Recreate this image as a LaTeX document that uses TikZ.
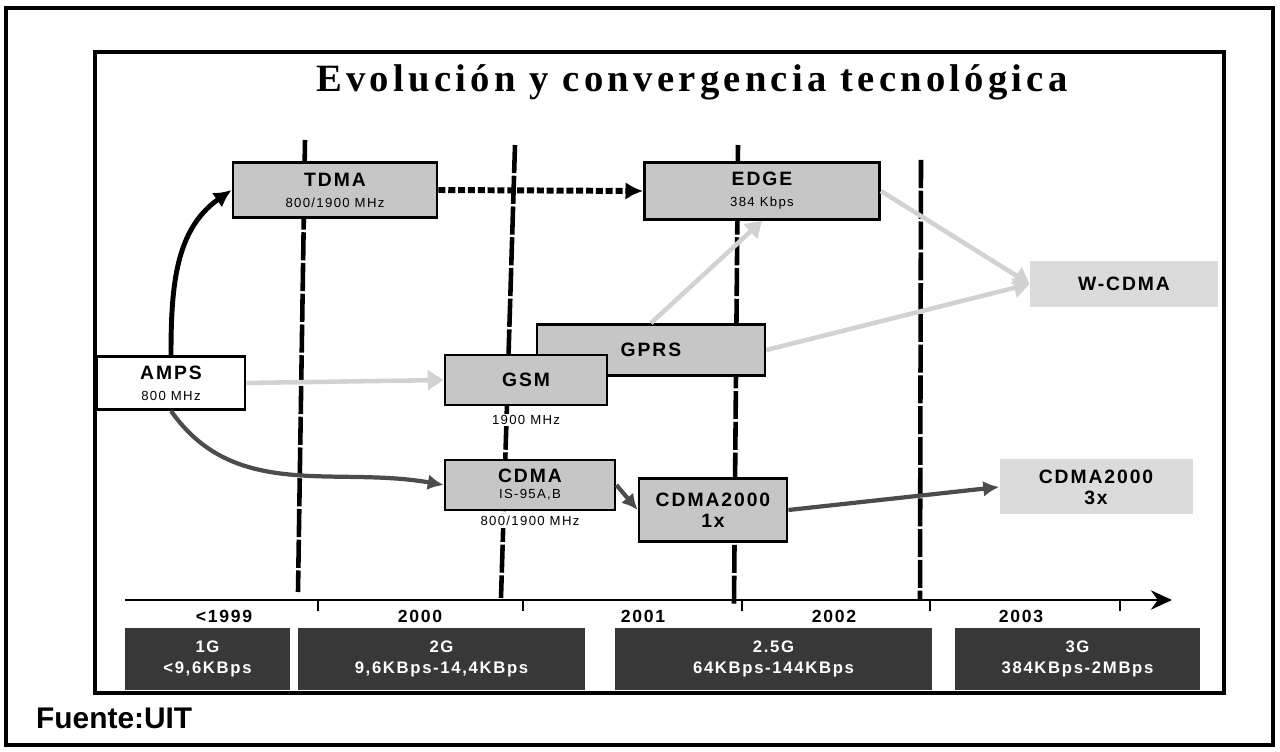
\documentclass[tikz,border=0pt]{standalone}
\usepackage{fontspec}
\setmainfont{Liberation Serif}
\newfontfamily\titlefont[LetterSpace=11]{Liberation Serif}
\newfontfamily\boxfont[LetterSpace=10]{Liberation Sans}
\newfontfamily\srcfont{Liberation Sans}
\usetikzlibrary{arrows.meta}

\newcommand{\subtxt}[1]{{\fontsize{7.5}{8}\selectfont\mdseries #1}}

\begin{document}
\begin{tikzpicture}[
  x=0.2mm, y=-0.2mm,
  tech/.style   = {draw, line width=1.6pt, fill=gray!45, align=center, inner sep=1pt,
                   font=\boxfont\bfseries\fontsize{11}{12}\selectfont},
  legacy/.style = {tech, fill=white},
  target/.style = {fill=gray!28, align=center, inner sep=1pt,
                   font=\boxfont\bfseries\fontsize{11}{12}\selectfont},
  band/.style   = {font=\boxfont\fontsize{7.5}{8}\selectfont, inner sep=1pt, fill=white},
  gen/.style    = {fill=black!78, text=white, align=center, minimum height=12.4mm,
                   font=\boxfont\bfseries\fontsize{9.5}{12}\selectfont},
  year/.style   = {font=\boxfont\bfseries\fontsize{10}{11}\selectfont, inner sep=1pt},
  era/.style    = {line width=2.6pt, dash pattern=on 16pt off 1.5pt},
  path/.style   = {-{Latex[length=9pt, width=9pt]}, line width=2.4pt, gray!60!black},
  mig/.style    = {-{Triangle[length=9pt, width=11pt]}, line width=2.6pt, gray!35},
]
  \useasboundingbox (0,0) rectangle (1280,752);

  % frames
  \draw[line width=2.2pt] (6,8) rectangle (1273,745);
  \draw[line width=2.2pt] (95,52) rectangle (1224,693);
  \node[font=\titlefont\bfseries\fontsize{22}{24}\selectfont] (title) at (692,82)
    {Evolución y convergencia tecnológica};

  % year boundaries
  \coordinate (b0t) at (305,140);  \coordinate (b0b) at (298,592);
  \coordinate (b1t) at (515,145);  \coordinate (b1b) at (501,598);
  \coordinate (b2t) at (738,145);  \coordinate (b2b) at (734,604);
  \coordinate (b3t) at (921,160);  \coordinate (b3b) at (920,600);
  \draw[era] (b0t) -- (b0b);
  \draw[era] (b1t) -- (b1b);
  \draw[era] (b2t) -- (b2b);
  \draw[era] (b3t) -- (b3b);

  % time axis
  \coordinate (tstart) at (125,600);
  \coordinate (tend)   at (1172,600);
  \draw[line width=1.3pt, -{Stealth[length=12pt, width=11pt]}] (tstart) -- (tend);
  \draw[line width=1.6pt] (318,600) -- (318,611) (523,600) -- (523,611)
    (742,600) -- (742,611) (930,600) -- (930,611) (1120,600) -- (1120,611);

  \node[year] (y99) at (224,616) {<1999};
  \node[year] (y00) at (420,616) {2000};
  \node[year] (y01) at (643,616) {2001};
  \node[year] (y02) at (834,616) {2002};
  \node[year] (y03) at (1021,616) {2003};

  \node[gen, minimum width=33mm] (g1)  at (207.5,659) {1G\\<9,6KBps};
  \node[gen, minimum width=57.4mm] (g2)  at (441.5,659) {2G\\9,6KBps-14,4KBps};
  \node[gen, minimum width=63.4mm] (g25) at (773.5,659) {2.5G\\64KBps-144KBps};
  \node[gen, minimum width=49mm] (g3)  at (1077.5,659) {3G\\384KBps-2MBps};

  % technologies
  \node[legacy, minimum width=29.6mm, minimum height=10.6mm] (amps) at (171,383)
    {AMPS\\\subtxt{800 MHz}};
  \node[tech, minimum width=40.8mm, minimum height=11mm] (tdma) at (335,190)
    {TDMA\\\subtxt{800/1900 MHz}};
  \node[tech, minimum width=47mm, minimum height=11.4mm] (edge) at (762,191)
    {EDGE\\\subtxt{384 Kbps}};
  \node[tech, minimum width=45.6mm, minimum height=10.2mm] (gprs) at (651,350) {GPRS};
  \node[tech, minimum width=32.4mm, minimum height=10mm] (gsm) at (526,380) {GSM};
  \node[band] (gsmband) at (526,420) {1900 MHz};
  \node[tech, minimum width=34mm, minimum height=10mm] (cdma) at (530,485)
    {CDMA\\[-3pt]\subtxt{IS-95A,B}};
  \node[band] (cdmaband) at (530,521) {800/1900 MHz};
  \node[tech, minimum width=29.6mm, minimum height=12.6mm] (cdma1x) at (713,510)
    {CDMA2000\\1x};
  \node[target, minimum width=37.6mm, minimum height=9.2mm] (wcdma) at (1124,284) {W-CDMA};
  \node[target, minimum width=38.6mm, minimum height=11mm] (cdma3x) at (1096,487)
    {CDMA2000\\3x};

  % migrations
  \draw[-{Latex[length=10pt, width=10pt]}, line width=2.8pt]
    (amps.north) to[out=90, in=215] (tdma.west);
  \draw[-{Latex[length=10pt, width=10pt]}, line width=3.4pt, dash pattern=on 4pt off 1.6pt]
    (tdma.east) -- (edge.west);
  \draw[path] (amps.south) to[out=-55, in=170] (cdma.west);
  \draw[path] (cdma.east) -- (cdma1x.west);
  \draw[path] (cdma1x.east) -- (cdma3x.west);
  \draw[mig] (amps.east) -- (gsm.west);
  \draw[mig] (gprs.north) -- (edge.south);
  \draw[mig] (gprs.east) -- (wcdma.west);
  \draw[mig] (edge.east) -- (wcdma.west);

  \node[font=\srcfont\bfseries\fontsize{17}{18}\selectfont, anchor=west] (src) at (30,718)
    {Fuente:UIT};
\end{tikzpicture}
\end{document}
